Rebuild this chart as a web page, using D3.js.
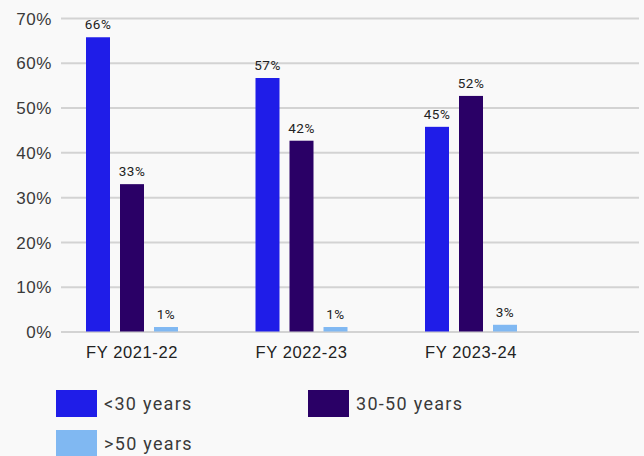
<!DOCTYPE html>
<html><head><meta charset="utf-8">
<script src="https://cdn.jsdelivr.net/npm/d3@7"></script>
<style>
html,body{margin:0;padding:0;background:#f9f9f9;}
svg{display:block;font-family:Roboto,"DejaVu Sans",sans-serif;}
</style></head>
<body><svg id="c" width="644" height="456"></svg>
<script>
const categories = ["FY 2021-22", "FY 2022-23", "FY 2023-24"];
const seriesNames = ["<30 years", "30-50 years", ">50 years"];
const under30 = [65.7, 56.6, 45.7];
const age30to50 = [32.9, 42.6, 52.6];
const over50 = [1.0, 1.0, 1.5];
const under30Labels = ["66%", "57%", "45%"];
const age30to50Labels = ["33%", "42%", "52%"];
const over50Labels = ["1%", "1%", "3%"];
const yTicks = [0, 10, 20, 30, 40, 50, 60, 70];
const colors = ["#1f1de8", "#2a0066", "#80b8f2"];

const seriesVals = [under30, age30to50, over50];
const seriesLabels = [under30Labels, age30to50Labels, over50Labels];
const data = categories.map((c, i) => ({
  cat: c,
  items: seriesNames.map((s, j) => ({ s, v: seriesVals[j][i], label: seriesLabels[j][i], color: colors[j] }))
}));

const svg = d3.select("#c");
const y = d3.scaleLinear().domain([0, 70]).range([331.5, 18]);
const x = d3.scaleBand().domain(categories).range([47.25, 555.75]).paddingInner(0).paddingOuter(0);
const xs = d3.scaleBand().domain(seriesNames)
  .range([x.bandwidth() / 2 - 46, x.bandwidth() / 2 + 46]).paddingInner(10 / 34).paddingOuter(0);

// grid
const yAxis = d3.axisLeft(y).tickValues(yTicks).tickFormat(d => d + "%").tickSize(-578).tickPadding(10);
const gy = svg.append("g").attr("transform", "translate(61,0)").call(yAxis);
gy.select(".domain").remove();
gy.selectAll(".tick line").attr("stroke", "#d3d3d3").attr("stroke-width", 2);
gy.selectAll(".tick text").attr("fill", "#3a3a3a").style("font-size", "17px")
  .style("letter-spacing", "0.6px").attr("x", -9).attr("dy", "0.36em");

// bars
const groups = svg.append("g").selectAll("g").data(data).join("g")
  .attr("transform", d => `translate(${x(d.cat)},0)`);
groups.selectAll("rect").data(d => d.items).join("rect")
  .attr("x", d => xs(d.s)).attr("width", xs.bandwidth())
  .attr("y", d => y(d.v)).attr("height", d => y(0) - y(d.v))
  .attr("fill", d => d.color);
groups.selectAll("text").data(d => d.items).join("text")
  .attr("x", d => xs(d.s) + xs.bandwidth() / 2)
  .attr("y", d => y(d.v) - 8)
  .attr("text-anchor", "middle").attr("fill", "#222").style("font-size", "13.5px")
  .style("letter-spacing", "0.5px")
  .text(d => d.label);

// x axis labels
const xAxis = d3.axisBottom(x).tickSize(0).tickPadding(0);
const gx = svg.append("g").attr("transform", "translate(0,346)").call(xAxis);
gx.select(".domain").remove();
gx.selectAll(".tick text").attr("fill", "#222").style("font-size", "16.5px")
  .style("letter-spacing", "0.6px").attr("dy", "0.71em");

// legend
const legendPos = [[56, 390], [308, 390], [56, 430]];
const lg = svg.append("g").selectAll("g").data(seriesNames).join("g")
  .attr("transform", (d, i) => `translate(${legendPos[i][0]},${legendPos[i][1]})`);
lg.append("rect").attr("width", 41).attr("height", 27).attr("fill", (d, i) => colors[i]);
lg.append("text").attr("x", 48).attr("y", 14).attr("dy", "0.35em")
  .attr("fill", "#3a3a3a").style("font-size", "18px").style("letter-spacing", "1.3px").text(d => d);
</script></body></html>
